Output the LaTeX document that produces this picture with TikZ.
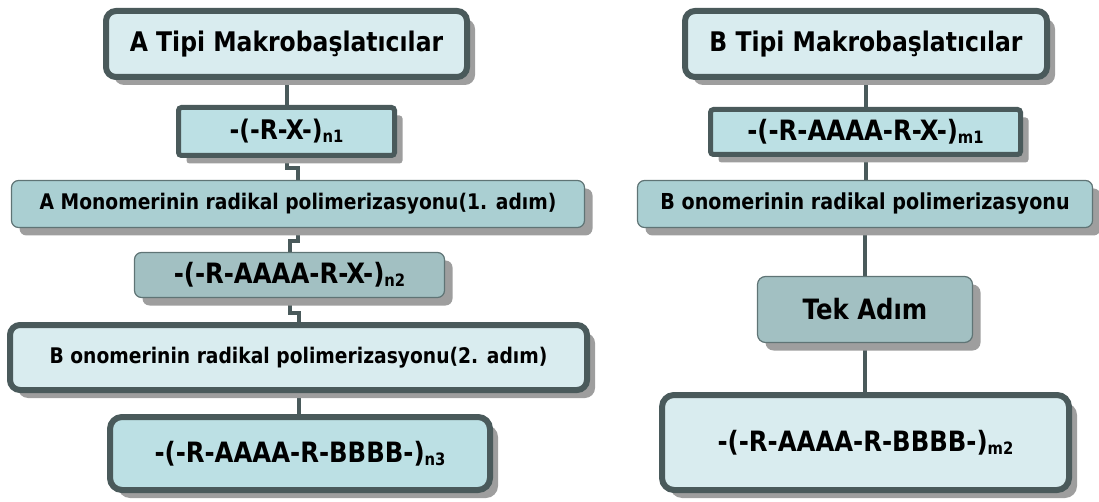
\documentclass[tikz,border=0pt]{standalone}
\usepackage{fontspec}
\setmainfont{DejaVu Sans}[FakeStretch=0.87]
\usetikzlibrary{shadows,backgrounds}
\definecolor{bord}{HTML}{4A5A5B}
\definecolor{thinbord}{HTML}{5F7475}
\definecolor{fillA}{HTML}{D9ECEF}
\definecolor{fillB}{HTML}{BCE0E4}
\definecolor{fillC}{HTML}{AACFD2}
\definecolor{fillD}{HTML}{A2C0C2}
\definecolor{shad}{HTML}{9E9E9E}
\newcommand{\subtxt}[1]{{\fontsize{17}{17}\selectfont\raisebox{-3pt}{#1}}}
\newcommand{\fs}[1]{\bfseries\fontsize{#1}{#1}\selectfont}
\begin{document}
\begin{tikzpicture}[x=1pt,y=-1pt,
  base/.style={draw=bord, inner sep=0pt, align=center,
    drop shadow={shadow xshift=8pt, shadow yshift=-8pt, fill=shad, opacity=1}},
  heavybox/.style={base, line width=6pt, rounded corners=10pt},
  midbox/.style={base, line width=5pt, rounded corners=3pt},
  lightbox/.style={base, draw=thinbord, line width=1.2pt, rounded corners=7pt},
  conn/.style={draw=bord, line width=4pt}
]
\useasboundingbox (0,0) rectangle (1099,502);
% left column
\node[heavybox, fill=fillA, minimum width=361pt, minimum height=66pt, font=\fs{27}] (a1) at (286.5,44) {A Tipi Makrobaşlatıcılar};
\node[midbox, fill=fillB, minimum width=216pt, minimum height=48pt, font=\fs{27}] (a2) at (286.5,131.5) {-(-R-X-)\subtxt{n1}};
\node[lightbox, fill=fillC, minimum width=573pt, minimum height=47pt, font=\fs{21.5}] (a3) at (298,204) {A Monomerinin radikal polimerizasyonu(1. adım)};
\node[lightbox, fill=fillD, minimum width=310pt, minimum height=45pt, font=\fs{28}] (a4) at (289.5,275) {-(-R-AAAA-R-X-)\subtxt{n2}};
\node[heavybox, fill=fillA, minimum width=577pt, minimum height=65pt, font=\fs{21.5}] (a5) at (298.5,357.5) {B onomerinin radikal polimerizasyonu(2. adım)};
\node[heavybox, fill=fillB, rounded corners=12pt, minimum width=380pt, minimum height=73pt, font=\fs{28}] (a6) at (300,453.5) {-(-R-AAAA-R-BBBB-)\subtxt{n3}};
% right column
\node[heavybox, fill=fillA, minimum width=362pt, minimum height=66pt, font=\fs{27}] (b1) at (866,44) {B Tipi Makrobaşlatıcılar};
\node[midbox, fill=fillB, minimum width=310pt, minimum height=45pt, font=\fs{28}] (b2) at (865.5,132) {-(-R-AAAA-R-X-)\subtxt{m1}};
\node[lightbox, fill=fillC, minimum width=455pt, minimum height=47pt, font=\fs{22}] (b3) at (865,204) {B onomerinin radikal polimerizasyonu};
\node[lightbox, fill=fillD, rounded corners=8pt, minimum width=215pt, minimum height=66pt, font=\fs{28}] (b4) at (865,309.5) {Tek Adım};
\node[heavybox, fill=fillA, rounded corners=12pt, minimum width=407pt, minimum height=95pt, font=\fs{28}] (b5) at (865.5,442.5) {-(-R-AAAA-R-BBBB-)\subtxt{m2}};
% connectors
\begin{pgfonlayer}{background}
\draw[conn] (a1.south) -- (a1.south |- a2.north);
\draw[conn] (a2.south) -- ++(0,10) -| (a3.north);
\draw[conn] (a3.south) -- ++(0,13) -| (a4.north);
\draw[conn] (a4.south) -- ++(0,15) -| (a5.north);
\draw[conn] (a5.south) -- (a5.south |- a6.north);
\draw[conn] (b1.south) -- (b1.south |- b2.north);
\draw[conn] (b2.south) -- (b2.south |- b3.north);
\draw[conn] (b3.south) -- (b3.south |- b4.north);
\draw[conn] (b4.south) -- (b4.south |- b5.north);
\end{pgfonlayer}
\end{tikzpicture}
\end{document}
